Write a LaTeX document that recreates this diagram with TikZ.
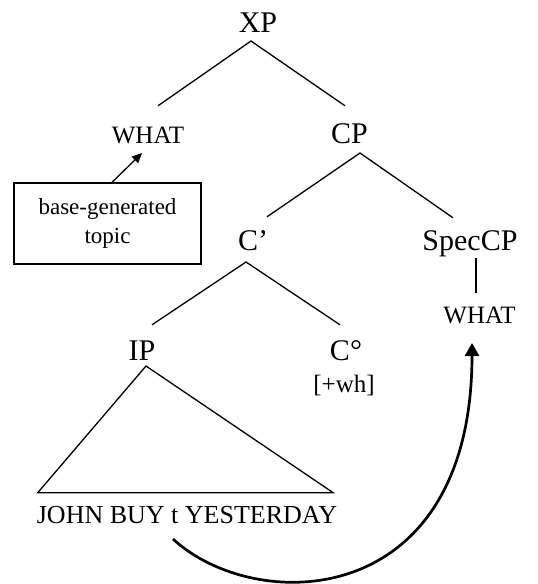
\documentclass[tikz,border=0pt]{standalone}
\usepackage{fontspec}
\setmainfont{Liberation Serif}
\usetikzlibrary{arrows.meta}
\begin{document}
\begin{tikzpicture}[x=1pt,y=-1pt,
  big/.style={font=\fontsize{30}{30}\selectfont, inner sep=0pt, text height=20pt, text depth=0pt, anchor=base},
  small/.style={font=\fontsize{25}{25}\selectfont, inner sep=0pt, text height=16.5pt, text depth=0pt, anchor=base},
  branch/.style={line width=1.3pt},
  notebox/.style={draw, line width=1.3pt, minimum width=187pt, minimum height=81pt, inner sep=0pt, align=center,
    font=\fontsize{23}{29.5}\selectfont},
  movearrow/.style={line width=2.7pt, -{Triangle[length=13pt,width=14pt]}},
  notearrow/.style={line width=1.3pt, -{Triangle[length=10pt,width=9pt]}}]
\useasboundingbox (0,0) rectangle (538,584);
% labels
\node[big] (XP) at (258,32) {XP};
\node[small] (WHATt) at (148,143) {WHAT};
\node[big] (CP) at (349.5,143) {CP};
\node[big] (Cbar) at (253,250) {C’};
\node[big] (Spec) at (470,250) {SpecCP};
\node[small] (WHATr) at (479.5,323) {WHAT};
\node[big] (IP) at (142,360) {IP};
\node[big] (C0) at (346,360) {C°};
\node[small] (wh) at (344,392) {[+wh]};
\node[small, font=\fontsize{26}{26}\selectfont, text height=17pt] (JOHN) at (187,523) {JOHN BUY t YESTERDAY};
\node[notebox] (box) at (107.5,223.5) {base-generated\\topic};
% branches
\draw[branch] ([xshift=10pt,yshift=20.5pt]WHATt.north) -- ([xshift=-7pt,yshift=-9pt]XP.base) -- ([xshift=-4.5pt,yshift=17pt]CP.north);
\draw[branch] ([xshift=14pt,yshift=13pt]Cbar.north) -- ([xshift=10.5pt,yshift=-10pt]CP.base) -- ([xshift=-17pt,yshift=12pt]Spec.north);
\draw[branch] ([xshift=10pt,yshift=15pt]IP.north) -- ([xshift=-7pt,yshift=-12pt]Cbar.base) -- ([xshift=-6pt,yshift=15pt]C0.north);
\draw[branch] ([xshift=6pt,yshift=-8pt]Spec.base) -- ([xshift=-3.5pt,yshift=13.5pt]WHATr.north);
\draw[branch, line join=miter] ([xshift=4pt,yshift=-6pt]IP.base) -- ([xshift=1pt,yshift=13pt]JOHN.north west) -- ([xshift=-4pt,yshift=13pt]JOHN.north east) -- cycle;
% arrows
\draw[notearrow] ([xshift=4.5pt]box.north) -- ([xshift=-6pt,yshift=-10pt]WHATt.base);
\draw[movearrow] ([xshift=-14pt,yshift=-16pt]JOHN.base) .. controls (255,615) and (472,612) .. ([xshift=-7.5pt,yshift=-20pt]WHATr.base);
\end{tikzpicture}
\end{document}
